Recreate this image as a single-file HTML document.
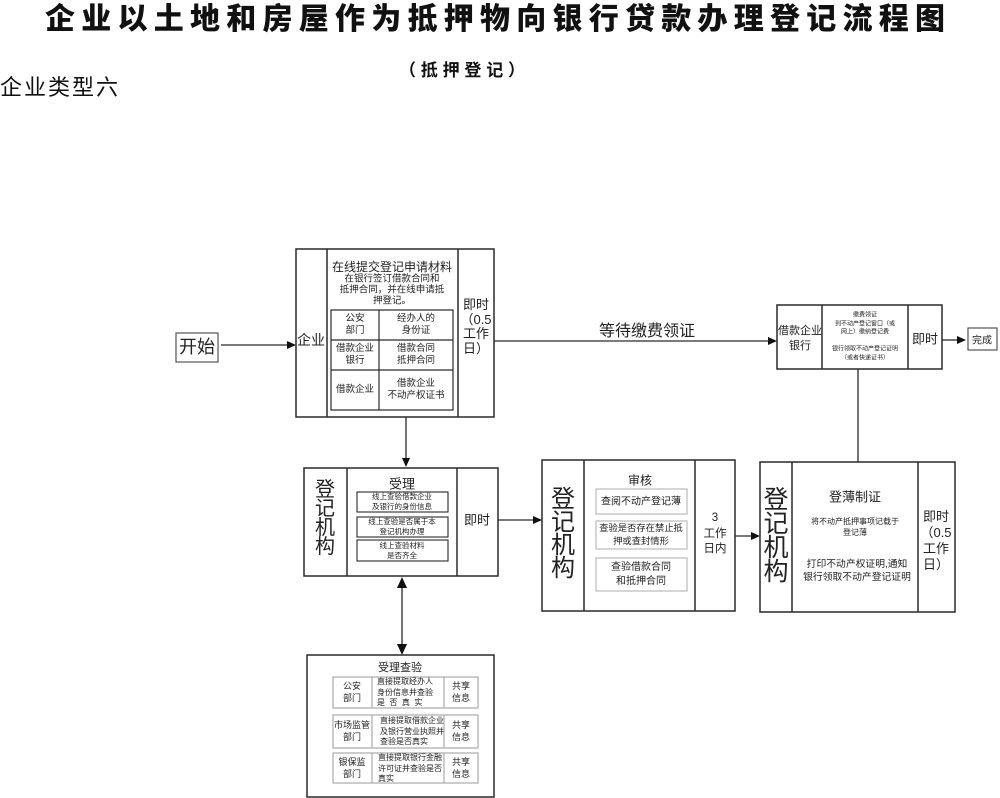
<!DOCTYPE html>
<html><head><meta charset="utf-8">
<style>
html,body{margin:0;padding:0;background:#fff;}
body{width:1000px;height:798px;position:relative;overflow:hidden;font-family:"Liberation Sans","Noto Sans CJK SC",sans-serif;color:#222;}
.t{position:absolute;text-align:center;white-space:nowrap;transform:translate(-50%,-50%);}
.l{position:absolute;white-space:nowrap;}
svg{position:absolute;left:0;top:0;}
</style></head><body>

<svg width="1000" height="798" viewBox="0 0 1000 798">
<g font-family="Liberation Sans, Noto Sans CJK SC, sans-serif" fill="#111">
<text x="45" y="29" font-size="30" font-weight="900" textLength="900" lengthAdjust="spacing">企业以土地和房屋作为抵押物向银行贷款办理登记流程图</text>
<text x="399" y="76" font-size="17" font-weight="bold" textLength="126" lengthAdjust="spacing">（抵押登记）</text>
<text x="0" y="95" font-size="22" textLength="118" lengthAdjust="spacing">企业类型六</text>
</g>
<g fill="none" stroke="#2a2a2a" stroke-width="1.5">
<rect x="176" y="333" width="42" height="29" stroke="#555" stroke-width="1.2"/>
<rect x="296" y="249" width="198" height="168"/>
<line x1="327" y1="249" x2="327" y2="417"/>
<line x1="458" y1="249" x2="458" y2="417"/>
<rect x="331" y="310" width="122" height="100" stroke-width="1.2"/>
<line x1="379" y1="310" x2="379" y2="410" stroke-width="1.2"/>
<line x1="331" y1="340" x2="453" y2="340" stroke-width="1.2"/>
<line x1="331" y1="370" x2="453" y2="370" stroke-width="1.2"/>
<rect x="777" y="305" width="165" height="64"/>
<line x1="822" y1="305" x2="822" y2="369"/>
<line x1="908" y1="305" x2="908" y2="369"/>
<rect x="968" y="328" width="29" height="22" stroke="#555" stroke-width="1.2"/>
<rect x="304" y="468" width="194" height="108"/>
<line x1="347" y1="468" x2="347" y2="576"/>
<line x1="457" y1="468" x2="457" y2="576"/>
<rect x="357" y="492" width="91" height="20" stroke-width="1.1"/>
<rect x="357" y="517" width="91" height="20" stroke-width="1.1"/>
<rect x="357" y="540" width="91" height="21" stroke-width="1.1"/>
<rect x="542" y="460" width="193" height="151"/>
<line x1="584" y1="460" x2="584" y2="611"/>
<line x1="695" y1="460" x2="695" y2="611"/>
<rect x="596" y="489" width="91" height="25" stroke="#bbb" stroke-width="1.2"/>
<rect x="596" y="521" width="91" height="28" stroke="#bbb" stroke-width="1.2"/>
<rect x="596" y="558" width="91" height="33" stroke="#bbb" stroke-width="1.2"/>
<rect x="760" y="462" width="195" height="150"/>
<line x1="792" y1="462" x2="792" y2="612"/>
<line x1="918" y1="462" x2="918" y2="612"/>
<rect x="307" y="655" width="187" height="142"/>
<g stroke="#aaa" stroke-width="1.2">
<rect x="333" y="677" width="145" height="31"/>
<line x1="372" y1="677" x2="372" y2="708"/><line x1="444" y1="677" x2="444" y2="708"/>
<rect x="333" y="715" width="145" height="33"/>
<line x1="372" y1="715" x2="372" y2="748"/><line x1="444" y1="715" x2="444" y2="748"/>
<rect x="333" y="753" width="145" height="30"/>
<line x1="372" y1="753" x2="372" y2="783"/><line x1="444" y1="753" x2="444" y2="783"/>
</g>
<line x1="221" y1="345" x2="290" y2="345" stroke-width="1.3"/>
<line x1="494" y1="341" x2="770" y2="341" stroke-width="1.3"/>
<line x1="942" y1="340" x2="958" y2="340" stroke-width="1.3"/>
<line x1="406" y1="417" x2="406" y2="460" stroke-width="1.3"/>
<line x1="498" y1="520" x2="535" y2="520" stroke-width="1.3"/>
<line x1="735" y1="536" x2="753" y2="536" stroke-width="1.3"/>
<line x1="858" y1="369" x2="858" y2="462" stroke-width="1.3"/>
<line x1="402" y1="584" x2="402" y2="647" stroke-width="1.3"/>
</g>
<g fill="#111">
<polygon points="296,345 287,341 287,349"/>
<polygon points="777,341 768,337 768,345"/>
<polygon points="966,340 957,336 957,344"/>
<polygon points="406,467 402,458 410,458"/>
<polygon points="542,520 533,516 533,524"/>
<polygon points="760,536 751,532 751,540"/>
<polygon points="402,577 397,588 407,588"/>
<polygon points="402,655 397,644 407,644"/>
</g>
</svg>

<!-- start -->
<div class="t" style="left:197px;top:347px;font-size:18px;line-height:20px;">开始</div>

<!-- enterprise box -->
<div class="t" style="left:311px;top:340px;font-size:14px;">企业</div>
<div class="t" style="left:392px;top:267px;font-size:12px;line-height:14px;">在线提交登记申请材料</div>
<div class="t" style="left:392px;top:290px;font-size:9.5px;line-height:11px;">在银行签订借款合同和<br>抵押合同，并在线申请抵<br>押登记。</div>
<div class="t" style="left:355px;top:325px;font-size:9.5px;line-height:12px;">公安<br>部门</div>
<div class="t" style="left:416px;top:325px;font-size:9.5px;line-height:12px;">经办人的<br>身份证</div>
<div class="t" style="left:355px;top:355px;font-size:9.5px;line-height:12px;">借款企业<br>银行</div>
<div class="t" style="left:416px;top:355px;font-size:9.5px;line-height:12px;">借款合同<br>抵押合同</div>
<div class="t" style="left:355px;top:390px;font-size:9.5px;line-height:12px;">借款企业</div>
<div class="t" style="left:416px;top:390px;font-size:9.5px;line-height:12px;">借款企业<br>不动产权证书</div>
<div class="t" style="left:476px;top:327px;font-size:13px;line-height:14.5px;">即时<br>（0.5<br>工作<br>日）</div>

<!-- connector label -->
<div class="t" style="left:647px;top:329px;font-size:16px;">等待缴费领证</div>

<!-- bank box -->
<div class="t" style="left:800px;top:339px;font-size:11px;line-height:15px;">借款企业<br>银行</div>
<div class="t" style="left:865px;top:337px;font-size:6px;line-height:8.5px;">缴费领证<br>到不动产登记窗口（或<br>网上）缴纳登记费<br>&nbsp;<br>银行领取不动产登记证明<br>（或者快递证书）</div>
<div class="t" style="left:925px;top:338px;font-size:13px;">即时</div>
<div class="t" style="left:982px;top:339px;font-size:10px;">完成</div>

<!-- box 2 -->
<div class="t" style="left:325px;top:519px;font-size:20px;line-height:19px;">登<br>记<br>机<br>构</div>
<div class="t" style="left:402px;top:483px;font-size:13px;">受理</div>
<div class="t" style="left:402px;top:502px;font-size:7.5px;line-height:10px;">线上查验借款企业<br>及银行的身份信息</div>
<div class="t" style="left:402px;top:527px;font-size:7.5px;line-height:10px;">线上查验是否属于本<br>登记机构办理</div>
<div class="t" style="left:402px;top:550.5px;font-size:7.5px;line-height:10px;">线上查验材料<br>是否齐全</div>
<div class="t" style="left:477px;top:519px;font-size:13px;">即时</div>

<!-- box 3 -->
<div class="t" style="left:563px;top:534px;font-size:24px;line-height:23px;">登<br>记<br>机<br>构</div>
<div class="t" style="left:640px;top:480px;font-size:12px;">审核</div>
<div class="t" style="left:641px;top:501.5px;font-size:10px;line-height:13px;">查阅不动产登记薄</div>
<div class="t" style="left:641px;top:535px;font-size:9.3px;line-height:13px;">查验是否存在禁止抵<br>押或查封情形</div>
<div class="t" style="left:641px;top:574.5px;font-size:10px;line-height:14px;">查验借款合同<br>和抵押合同</div>
<div class="t" style="left:715px;top:534px;font-size:11.5px;line-height:15.5px;">3<br>工作<br>日内</div>

<!-- box 4 -->
<div class="t" style="left:776px;top:536px;font-size:25px;line-height:24px;">登<br>记<br>机<br>构</div>
<div class="t" style="left:855px;top:496px;font-size:13px;">登薄制证</div>
<div class="t" style="left:855px;top:527px;font-size:8px;line-height:11px;">将不动产抵押事项记载于<br>登记薄</div>
<div class="t" style="left:857px;top:571px;font-size:9.8px;line-height:13px;">打印不动产权证明,通知<br>银行领取不动产登记证明</div>
<div class="t" style="left:936px;top:541px;font-size:13px;line-height:16px;">即时<br>（0.5<br>工作<br>日）</div>

<!-- box 5 -->
<div class="t" style="left:400px;top:667px;font-size:11px;">受理查验</div>
<div class="t" style="left:352px;top:692px;font-size:9px;line-height:12px;">公安<br>部门</div>
<div class="l" style="left:377px;top:677px;font-size:8px;line-height:10.5px;">直接提取经办人<br>身份信息并查验<br>是&nbsp;&nbsp;否&nbsp;&nbsp;真&nbsp;&nbsp;实</div>
<div class="t" style="left:461px;top:692px;font-size:9px;line-height:12px;">共享<br>信息</div>
<div class="t" style="left:352px;top:731px;font-size:9px;line-height:12px;">市场监管<br>部门</div>
<div class="l" style="left:380px;top:716px;font-size:8px;line-height:10.5px;">直接提取借款企业<br>及银行营业执照并<br>查验是否真实</div>
<div class="t" style="left:461px;top:731px;font-size:9px;line-height:12px;">共享<br>信息</div>
<div class="t" style="left:352px;top:768px;font-size:9px;line-height:12px;">银保监<br>部门</div>
<div class="l" style="left:378px;top:753px;font-size:8px;line-height:10.5px;">直接提取银行金融<br>许可证并查验是否<br>真实</div>
<div class="t" style="left:461px;top:768px;font-size:9px;line-height:12px;">共享<br>信息</div>

</body></html>
